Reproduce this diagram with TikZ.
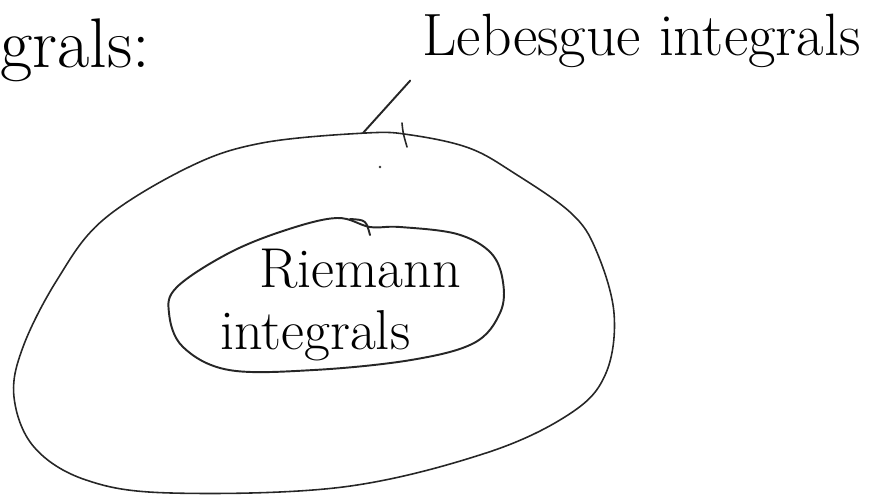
\documentclass[tikz,border=0pt]{standalone}
\usepackage{amsmath}
\usepackage{tikz}
\usetikzlibrary{positioning, arrows.meta, calc}

\begin{document}
\begin{tikzpicture}[x=0.02cm, y=-0.02cm,
    pen/.style={black!85, line width=0.9pt, line cap=round, line join=round},
    hand/.style={inner sep=0pt, font=\fontsize{34}{38}\selectfont}]
    \useasboundingbox (0,0) rectangle (887,497);

    % Labels (handwritten)
    \node[hand, anchor=base west, font=\fontsize{40}{44}\selectfont] (integrals) at (0,68) {grals:};
    \node[hand, anchor=base west] (lebesgue) at (422,55) {Lebesgue integrals};
    \node[hand, align=left, anchor=north west, font=\fontsize{32}{37}\selectfont] (riemann) at (220,249)
        {\hspace*{22pt}Riemann\\[-2pt]integrals};

    % Outer set (Lebesgue)
    \draw[pen] plot[smooth cycle, tension=0.6] coordinates {
        (366,133) (411,135) (469,148) (514,173) (571,213) (596,250)
        (614,313) (606,373) (571,413) (486,453) (343,487) (171,493)
        (86,480) (34,447) (14,397) (23,347) (57,280) (103,220) (189,167) (262,143)};
    \draw[pen] (402,123) .. controls (403,133) .. (407,147);
    \coordinate (outertop) at (363,133);
    \fill[black!80] (380,167) circle (0.8pt);

    % Inner set (Riemann)
    \draw[pen, line width=1.1pt] plot[smooth cycle, tension=0.6] coordinates {
        (337,218) (370,227) (400,227) (457,234) (491,253) (503,282)
        (500,313) (474,343) (411,360) (314,370) (229,370) (183,347)
        (169,313) (177,287) (229,253) (286,230)};
    \draw[pen, line width=1.1pt] (350,219) .. controls (366,220) .. (370,235);

    % pointer from the label
    \draw[pen, line width=1.1pt, shorten >=10pt] (outertop) -- (lebesgue.south west);
\end{tikzpicture}
\end{document}
